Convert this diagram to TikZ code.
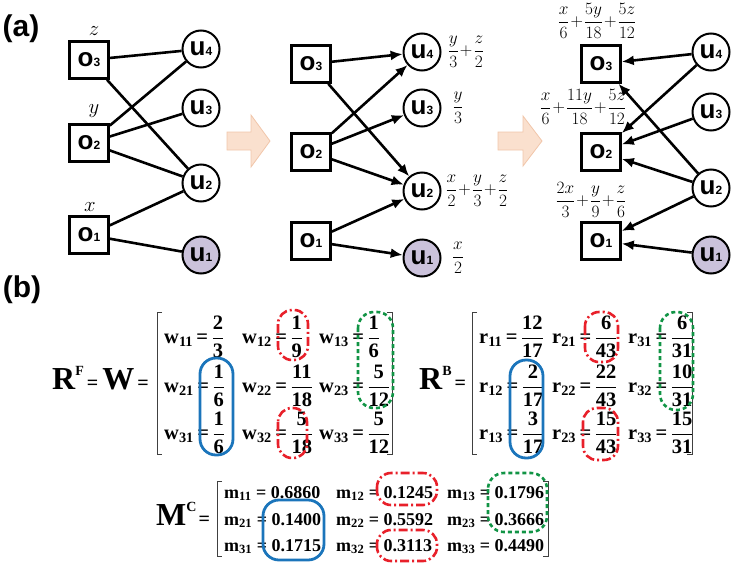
\documentclass[tikz,border=0pt]{standalone}
\usepackage{amsmath}
\usepackage{fontspec}
\setmainfont{Liberation Serif}
\newfontfamily\sansfam{Liberation Sans}
\usetikzlibrary{arrows.meta}

\definecolor{lav}{HTML}{CBC2DB}
\definecolor{peachfill}{HTML}{FAE0CE}
\definecolor{peachline}{HTML}{F1C6AA}
\definecolor{ringblue}{HTML}{1B75BB}
\definecolor{ringred}{HTML}{E8202A}
\definecolor{ringgreen}{HTML}{119445}

\newcommand\vtx[2]{{\sansfam\bfseries\fontsize{26}{26}\selectfont #1\fontsize{12}{12}\selectfont #2}}
\newcommand\bfr[2]{\genfrac{}{}{1.2pt}{0}{\text{\bfseries #1}}{\text{\bfseries #2}}}
\newcommand\went[4]{\textbf{#1}$_{\text{\bfseries #2}}$\,\textbf{=}\,$\bfr{#3}{#4}$}
\newcommand\ment[3]{\textbf{#1}$_{\text{\bfseries #2}}$ \textbf{= #3}}

\begin{document}
\begin{tikzpicture}[x=1pt, y=-1pt,
    obox/.style={draw, line width=2.6pt, minimum width=39pt, minimum height=37pt, inner sep=0pt},
    unode/.style={circle, draw, line width=2pt, minimum size=37pt, inner sep=0pt},
    ushade/.style={unode, fill=lav},
    link/.style={line width=2.6pt},
    flow/.style={link, -{Latex[length=12pt,width=10pt]}},
    tag/.style={font=\fontsize{21}{23}\selectfont, inner sep=0pt},
    sums/.style={font=\fontsize{16.5}{18}\selectfont, inner sep=0pt},
    panel/.style={font=\sansfam\bfseries\fontsize{30}{30}\selectfont, inner sep=0pt},
    peach/.style={fill=peachfill, draw=peachline, line width=0.8pt},
    cell/.style={font=\fontsize{20.5}{22}\selectfont, anchor=west, inner sep=0pt},
    mcell/.style={font=\fontsize{18}{20}\selectfont, anchor=base west, inner sep=0pt},
    bracket/.style={line width=1pt, black!75},
    bring/.style={draw=ringblue, line width=2.8pt, rounded corners=16pt},
    rring/.style={draw=ringred, line width=2.6pt, rounded corners=14pt, dash pattern=on 9pt off 3pt on 2pt off 3pt},
    gring/.style={draw=ringgreen, line width=2.6pt, rounded corners=16pt, dash pattern=on 4pt off 3pt}
  ]
  \useasboundingbox (0,0) rectangle (735,562);

  % Panel labels
  \node[panel] (pa) at (21,29) {(a)};
  \node[panel] (pb) at (22,290) {(b)};

  % Graph 1: nodes
  \node[obox] (ga3) at (89,60) {\vtx{o}{3}};
  \node[obox] (ga2) at (89,143) {\vtx{o}{2}};
  \node[obox] (ga1) at (89,235) {\vtx{o}{1}};
  \node[unode] (ua4) at (201,49) {\vtx{u}{4}};
  \node[unode] (ua3) at (201,108) {\vtx{u}{3}};
  \node[unode] (ua2) at (201,183) {\vtx{u}{2}};
  \node[ushade] (ua1) at (201,255) {\vtx{u}{1}};
  \node[tag] (tz) at (94,31) {$z$};
  \node[tag] (ty) at (94,111) {$y$};
  \node[tag] (tx) at (90,207) {$x$};

  % Graph 1: edges
  \draw[link] (ga3) -- (ua4);
  \draw[link] (ga3) -- (ua2);
  \draw[link] (ga2) -- (ua4);
  \draw[link] (ga2) -- (ua3);
  \draw[link] (ga2) -- (ua2);
  \draw[link] (ga1) -- (ua2);
  \draw[link] (ga1) -- (ua1);

  % Big arrows
  \draw[peach] (227,132) -- (251,132) -- (251,115) -- (270,141) -- (251,167) -- (251,150) -- (227,150) -- cycle;
  \draw[peach] (498,132) -- (523,132) -- (523,116) -- (542,141) -- (523,166) -- (523,150) -- (498,150) -- cycle;

  % Graph 2: nodes
  \node[obox] (gb3) at (311,64) {\vtx{o}{3}};
  \node[obox] (gb2) at (311,152) {\vtx{o}{2}};
  \node[obox] (gb1) at (311,241) {\vtx{o}{1}};
  \node[unode] (ub4) at (422,52) {\vtx{u}{4}};
  \node[unode] (ub3) at (422,108) {\vtx{u}{3}};
  \node[unode] (ub2) at (422,191) {\vtx{u}{2}};
  \node[ushade] (ub1) at (422,258) {\vtx{u}{1}};
  \node[sums] (sb4) at (466,52) {$\dfrac{y}{3}\!+\!\dfrac{z}{2}$};
  \node[sums] (sb3) at (458,108) {$\dfrac{y}{3}$};
  \node[sums] (sb2) at (477,191) {$\dfrac{x}{2}\!+\!\dfrac{y}{3}\!+\!\dfrac{z}{2}$};
  \node[sums] (sb1) at (458,258) {$\dfrac{x}{2}$};

  % Graph 2: edges
  \draw[flow] (gb3) -- (ub4);
  \draw[flow] (gb3) -- (ub2);
  \draw[flow] (gb2) -- (ub4);
  \draw[flow] (gb2) -- (ub3);
  \draw[flow] (gb2) -- (ub2);
  \draw[flow] (gb1) -- (ub2);
  \draw[flow] (gb1) -- (ub1);

  % Graph 3: nodes
  \node[obox] (gc3) at (601,64) {\vtx{o}{3}};
  \node[obox] (gc2) at (601,152) {\vtx{o}{2}};
  \node[obox] (gc1) at (601,241) {\vtx{o}{1}};
  \node[unode] (uc4) at (711,52) {\vtx{u}{4}};
  \node[unode] (uc3) at (711,112) {\vtx{u}{3}};
  \node[unode] (uc2) at (711,188) {\vtx{u}{2}};
  \node[ushade] (uc1) at (711,255) {\vtx{u}{1}};
  \node[sums] (sc3) at (597,21) {$\dfrac{x}{6}\!+\!\dfrac{5y}{18}\!+\!\dfrac{5z}{12}$};
  \node[sums] (sc2) at (583,107) {$\dfrac{x}{6}\!+\!\dfrac{11y}{18}\!+\!\dfrac{5z}{12}$};
  \node[sums] (sc1) at (591,200) {$\dfrac{2x}{3}\!+\!\dfrac{y}{9}\!+\!\dfrac{z}{6}$};

  % Graph 3: edges
  \draw[flow] (uc4) -- (gc3);
  \draw[flow] (uc4) -- (gc2);
  \draw[flow] (uc3) -- (gc2);
  \draw[flow] (uc2) -- (gc3);
  \draw[flow] (uc2) -- (gc2);
  \draw[flow] (uc2) -- (gc1);
  \draw[flow] (uc1) -- (gc1);

  % R^F = W
  \node[anchor=base west, inner sep=0pt] (rfw) at (52,389) {\bfseries\fontsize{32}{32}\selectfont R\raisebox{14pt}{\fontsize{14}{14}\selectfont F}\hspace{3pt}\fontsize{20}{20}\selectfont =\hspace{4pt}\fontsize{32}{32}\selectfont W\hspace{3pt}\fontsize{20}{20}\selectfont =};
  \draw[bracket] (162,312) -- (157,312) -- (157,454) -- (162,454);
  \draw[bracket] (387,312) -- (392,312) -- (392,454) -- (387,454);
  \node[cell] (w11) at (164,337) {\went{w}{11}{2}{3}};
  \node[cell] (w12) at (242,337) {\went{w}{12}{1}{9}};
  \node[cell] (w13) at (319,337) {\went{w}{13}{1}{6}};
  \node[cell] (w21) at (164,386) {\went{w}{21}{1}{6}};
  \node[cell] (w22) at (242,386) {\went{w}{22}{11}{18}};
  \node[cell] (w23) at (319,386) {\went{w}{23}{5}{12}};
  \node[cell] (w31) at (164,433) {\went{w}{31}{1}{6}};
  \node[cell] (w32) at (242,433) {\went{w}{32}{5}{18}};
  \node[cell] (w33) at (319,433) {\went{w}{33}{5}{12}};
  \draw[bring] (200,358) rectangle (233,455);
  \draw[rring] (278,310) rectangle (308,360);
  \draw[rring] (278,408) rectangle (307,458);
  \draw[gring] (358,312) rectangle (393,408);

  % R^B
  \node[anchor=base west, inner sep=0pt] (rb) at (419,389) {\bfseries\fontsize{32}{32}\selectfont R\raisebox{14pt}{\fontsize{14}{14}\selectfont B}\hspace{3pt}\fontsize{20}{20}\selectfont =};
  \draw[bracket] (477,312) -- (472,312) -- (472,454) -- (477,454);
  \draw[bracket] (687,312) -- (692,312) -- (692,454) -- (687,454);
  \node[cell] (r11) at (479,337) {\went{r}{11}{12}{17}};
  \node[cell] (r21) at (552,337) {\went{r}{21}{6}{43}};
  \node[cell] (r31) at (628,337) {\went{r}{31}{6}{31}};
  \node[cell] (r12) at (479,386) {\went{r}{12}{2}{17}};
  \node[cell] (r22) at (552,386) {\went{r}{22}{22}{43}};
  \node[cell] (r32) at (628,386) {\went{r}{32}{10}{31}};
  \node[cell] (r13) at (479,433) {\went{r}{13}{3}{17}};
  \node[cell] (r23) at (552,433) {\went{r}{23}{15}{43}};
  \node[cell] (r33) at (628,433) {\went{r}{33}{15}{31}};
  \draw[bring] (510,360) rectangle (543,458);
  \draw[rring] (585,312) rectangle (618,362);
  \draw[rring] (583,408) rectangle (618,460);
  \draw[gring] (660,312) rectangle (693,410);

  % M^C
  \node[anchor=base west, inner sep=0pt] (mc) at (156,525) {\bfseries\fontsize{32}{32}\selectfont M\raisebox{14pt}{\fontsize{14}{14}\selectfont C}\hspace{2pt}\fontsize{20}{20}\selectfont =};
  \draw[bracket] (222,481) -- (217,481) -- (217,556) -- (222,556);
  \draw[bracket] (543,481) -- (548,481) -- (548,556) -- (543,556);
  \node[mcell] (m11) at (224,498) {\ment{m}{11}{0.6860}};
  \node[mcell] (m12) at (336,498) {\ment{m}{12}{0.1245}};
  \node[mcell] (m13) at (447,498) {\ment{m}{13}{0.1796}};
  \node[mcell] (m21) at (224,525) {\ment{m}{21}{0.1400}};
  \node[mcell] (m22) at (336,525) {\ment{m}{22}{0.5592}};
  \node[mcell] (m23) at (447,525) {\ment{m}{23}{0.3666}};
  \node[mcell] (m31) at (224,551) {\ment{m}{31}{0.1715}};
  \node[mcell] (m32) at (336,551) {\ment{m}{32}{0.3113}};
  \node[mcell] (m33) at (447,551) {\ment{m}{33}{0.4490}};
  \draw[bring] (263,500) rectangle (324,560);
  \draw[rring] (377,473) rectangle (437,505);
  \draw[rring] (377,530) rectangle (437,561);
  \draw[gring] (488,473) rectangle (547,532);
\end{tikzpicture}
\end{document}
